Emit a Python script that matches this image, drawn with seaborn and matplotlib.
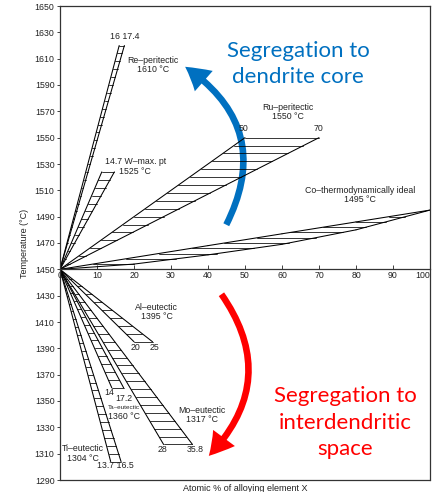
import numpy as np
import pandas as pd
import matplotlib
matplotlib.use("Agg")
import matplotlib.pyplot as plt
import seaborn as sns
from matplotlib.patches import FancyArrowPatch

# ---------------- data ----------------
apex_T = 1450
wedge_names = ["Re", "W", "Ru", "Al", "Ta", "Mo", "Ti"]
wedge_titles = ["Re–peritectic", "14.7 W–max. pt", "Ru–peritectic", "Al–eutectic",
                "Ta–eutectic", "Mo–eutectic", "Ti–eutectic"]
wedge_temps = ["1610 °C", "1525 °C", "1550 °C", "1395 °C", "1360 °C", "1317 °C", "1304 °C"]
wedge_end_T = [1620, 1524, 1550, 1395, 1360, 1317, 1304]
wedge_x1 = [16, 11.3, 50, 20, 14, 28, 13.7]
wedge_x2 = [17.4, 14.7, 70, 25, 17.2, 35.8, 16.5]
end_label_texts = {
    "Re": ["16 17.4"], "W": [], "Ru": ["50", "70"], "Al": ["20", "25"],
    "Ta": ["14", "17.2"], "Mo": ["28", "35.8"], "Ti": ["13.7 16.5"],
}
co_x = [0, 20, 40, 60, 80, 100]
co_liquidus = [1450, 1459, 1468, 1477, 1486, 1495]
co_solidus = [1450, 1454, 1461, 1469, 1480, 1495]
co_title = "Co–thermodynamically ideal\n1495 °C"

x_ticks = list(range(0, 101, 10))
y_ticks = list(range(1290, 1651, 20))

# ---------------- layout (positions of labels, not data) ----------------
title_pos = {"Re": (25.1, 1605), "W": (20.3, 1528), "Ru": (61.6, 1569.5),
             "Al": (26.1, 1417.5), "Ta": (17.3, 1342.5), "Mo": (38.3, 1339.5),
             "Ti": (6.2, 1310)}
end_label_pos = {"Re": [(17.6, 1626.5)], "W": [], "Ru": [(49.5, 1557), (69.8, 1557)],
                 "Al": [(20.3, 1390.5), (25.6, 1390.5)],
                 "Ta": [(13.2, 1356.4), (17.3, 1351.6)],
                 "Mo": [(27.8, 1313.4), (36.5, 1313.4)],
                 "Ti": [(14.9, 1300.7)]}
co_title_pos = (81, 1506.5)
hatch_step = 6.0

# ---------------- build segments ----------------
rows = []
seg = 0
def add_seg(xa, ya, xb, yb, kind):
    global seg
    rows.append(dict(x=xa, T=ya, seg=seg, kind=kind))
    rows.append(dict(x=xb, T=yb, seg=seg, kind=kind))
    seg += 1

for name, Te, x1, x2 in zip(wedge_names, wedge_end_T, wedge_x1, wedge_x2):
    add_seg(0, apex_T, x1, Te, "edge")
    add_seg(0, apex_T, x2, Te, "edge")
    span = Te - apex_T
    n = int(abs(span) // hatch_step)
    for k in range(n + 1):
        t = Te - np.sign(span) * k * hatch_step
        frac = (t - apex_T) / span
        if frac <= 0.02:
            continue
        add_seg(x1 * frac, t, x2 * frac, t, "hatch")

# Co lens
for i in range(len(co_x) - 1):
    add_seg(co_x[i], co_liquidus[i], co_x[i + 1], co_liquidus[i + 1], "edge")
    add_seg(co_x[i], co_solidus[i], co_x[i + 1], co_solidus[i + 1], "edge")
for t in np.arange(apex_T + 4, co_liquidus[-1], 4.0):
    xl = np.interp(t, co_liquidus, co_x)
    xs = np.interp(t, co_solidus, co_x)
    add_seg(xl, t, xs, t, "hatch")

df = pd.DataFrame(rows)

# ---------------- plot ----------------
sns.set_theme(style="white")
plt.rcParams["font.family"] = ["Liberation Sans", "DejaVu Sans"]

fig = plt.figure(figsize=(4.33, 4.92), dpi=100)
ax = fig.add_axes([60 / 433, 12 / 492, 370 / 433, 474 / 492])

sns.lineplot(data=df[df.kind == "edge"], x="x", y="T", units="seg", estimator=None,
             sort=False, color="black", lw=0.75, ax=ax, legend=False)
sns.lineplot(data=df[df.kind == "hatch"], x="x", y="T", units="seg", estimator=None,
             sort=False, color="black", lw=0.55, ax=ax, legend=False)

ax.set_xlim(0, 100)
ax.set_ylim(1290, 1650)
ax.set_xticks(x_ticks)
ax.set_yticks(y_ticks)
ax.set_xlabel("")
ax.set_ylabel("")

for s in ["top", "right", "left", "bottom"]:
    ax.spines[s].set_color("#333333")
    ax.spines[s].set_linewidth(0.9)
ax.spines["bottom"].set_position(("data", apex_T))
ax.plot([0, 1], [0, 0], transform=ax.transAxes, color="#333333", lw=0.9, clip_on=False)

ax.tick_params(axis="x", direction="in", length=3, width=0.6, pad=1.5,
               labelsize=6.3, colors="#222222", bottom=True)
ax.tick_params(axis="y", direction="out", length=2.5, width=0.6, pad=1.5,
               labelsize=6.3, colors="#222222", left=True)
xlabels = ax.get_xticklabels()
xlabels[-1].set_ha("right")

ax.text(-0.095, 0.5, "Temperature (°C)", transform=ax.transAxes, rotation=90,
        ha="center", va="center", fontsize=6.5, color="#222222")
ax.text(0.5, -0.017, "Atomic % of alloying element X", transform=ax.transAxes,
        ha="center", va="center", fontsize=6.5, color="#222222")

fs = 6.3
for name, ttl, tmp in zip(wedge_names, wedge_titles, wedge_temps):
    px, py = title_pos[name]
    if name == "Ta":
        ax.text(px, py + 2.5, ttl, fontsize=4.6, ha="center", va="center", color="#222222")
        ax.text(px, py - 4, tmp, fontsize=fs, ha="center", va="center", color="#222222")
    else:
        ax.text(px, py, ttl + "\n" + tmp, fontsize=fs, ha="center", va="center",
                color="#222222", linespacing=1.05)
    for txt, (lx, ly) in zip(end_label_texts[name], end_label_pos[name]):
        ax.text(lx, ly, txt, fontsize=fs, ha="center", va="center", color="#222222")
ax.text(co_title_pos[0], co_title_pos[1], co_title, fontsize=fs, ha="center",
        va="center", color="#222222", linespacing=1.05)

# annotation arrows and texts
blue = "#0070C0"
red = "#FF0000"
style = "simple,head_length=1.3,head_width=1.5,tail_width=0.36"
ax.add_patch(FancyArrowPatch((44.6, 1482), (33.2, 1605), connectionstyle="arc3,rad=0.45",
                             arrowstyle=style, mutation_scale=13, color=blue, lw=0))
ax.add_patch(FancyArrowPatch((43.2, 1432.8), (39.7, 1306.8), connectionstyle="arc3,rad=-0.42",
                             arrowstyle=style, mutation_scale=13, color=red, lw=0))

ax.text(64.4, 1606, "Segregation to\ndendrite core", fontsize=16, color=blue,
        ha="center", va="center", family=["Lato", "DejaVu Sans"], linespacing=1.4)
ax.text(77, 1333.5, "Segregation to\ninterdendritic\nspace", fontsize=16, color=red,
        ha="center", va="center", family=["Lato", "DejaVu Sans"], linespacing=1.4)

fig.savefig("out.png", dpi=100, facecolor="white")
